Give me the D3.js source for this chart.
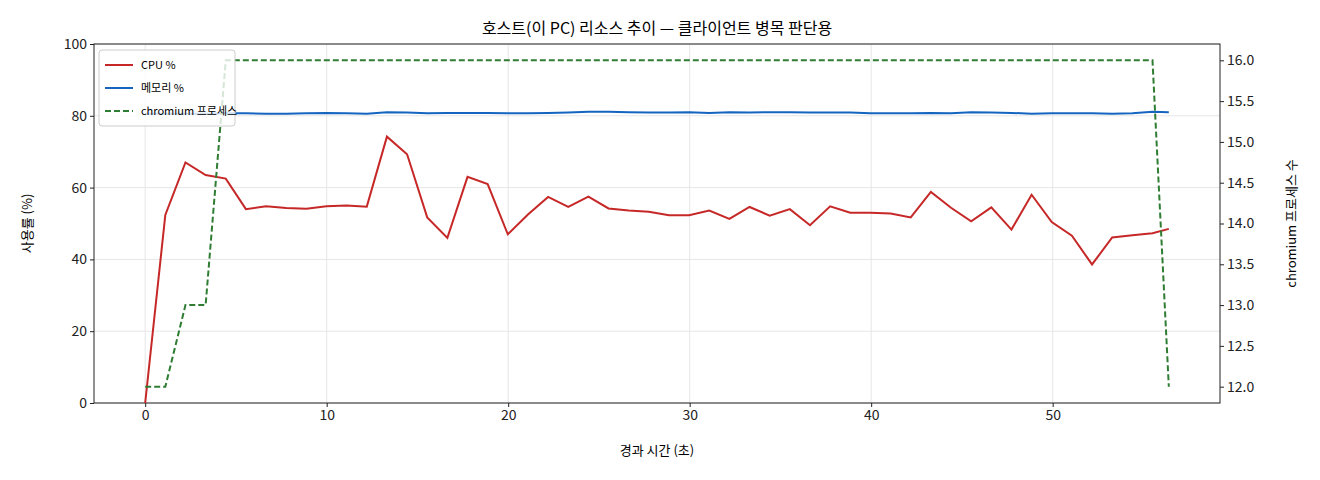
<!DOCTYPE html><html><head><meta charset="utf-8">
<script src="https://cdn.jsdelivr.net/npm/d3@7"></script>
<style>body{margin:0;background:#fff}text{font-family:"Noto Sans CJK KR","DejaVu Sans",sans-serif}</style></head>
<body><svg id="c" width="1320" height="480"></svg>
<script>
const cpu=[0,52.4,67,63.5,62.5,54,54.8,54.3,54.1,54.8,55,54.7,74.2,69.3,51.7,46,63,61,47,52.5,57.4,54.6,57.5,54.2,53.6,53.3,52.3,52.3,53.6,51.3,54.6,52.2,54,49.5,54.8,53,53,52.8,51.7,58.8,54.4,50.6,54.5,48.3,58,50.4,46.6,38.6,46.1,46.7,47.3,48.5];
const mem=[80.6,80.6,80.6,80.6,80.7,80.7,80.6,80.6,80.7,80.8,80.7,80.6,81.0,80.9,80.7,80.8,80.8,80.8,80.7,80.7,80.8,80.9,81.1,81.1,81.0,80.9,80.9,81.0,80.8,81.0,80.9,81.0,81.0,80.9,80.9,80.9,80.7,80.7,80.7,80.8,80.7,81.0,80.9,80.8,80.6,80.7,80.7,80.7,80.6,80.7,81.1,81.0];
const chrom=[12,12,13,13,16,16,16,16,16,16,16,16,16,16,16,16,16,16,16,16,16,16,16,16,16,16,16,16,16,16,16,16,16,16,16,16,16,16,16,16,16,16,16,16,16,16,16,16,16,16,16,12];
const times=cpu.map((d,i)=>i<51?i*1.11:56.4);
const xTicks=[0,10,20,30,40,50],yTicks=[0,20,40,60,80,100],y2Ticks=[12,12.5,13,13.5,14,14.5,15,15.5,16];
const L=94,R=1220,T=44,B=403;
const svg=d3.select("#c");
const x=d3.scaleLinear().domain([-2.82,59.22]).range([L,R]);
const y=d3.scaleLinear().domain([0,100]).range([B,T]);
const y2=d3.scaleLinear().domain([11.8,16.2]).range([B,T]);
const g=svg.append("g");
g.selectAll(".gx").data(xTicks).join("line").attr("x1",d=>x(d)).attr("x2",d=>x(d)).attr("y1",T).attr("y2",B).attr("stroke","#e6e6e6");
g.selectAll(".gy").data(yTicks).join("line").attr("y1",d=>y(d)).attr("y2",d=>y(d)).attr("x1",L).attr("x2",R).attr("stroke","#e6e6e6");
const ax=svg.append("g").attr("transform",`translate(0,${B})`).call(d3.axisBottom(x).tickValues(xTicks).tickSize(4));
const ay=svg.append("g").attr("transform",`translate(${L},0)`).call(d3.axisLeft(y).tickValues(yTicks).tickSize(4));
const ay2=svg.append("g").attr("transform",`translate(${R},0)`).call(d3.axisRight(y2).tickValues(y2Ticks).tickFormat(d3.format(".1f")).tickSize(4));
[ax,ay,ay2].forEach(a=>{a.select(".domain").remove();a.selectAll("text").attr("font-size",14).attr("fill","#222");a.selectAll("line").attr("stroke","#222");});
svg.append("rect").attr("x",L).attr("y",T).attr("width",R-L).attr("height",B-T).attr("fill","none").attr("stroke","#222");
const ln=(ys,sc)=>d3.line().x((d,i)=>x(times[i])).y(d=>sc(d))(ys);
svg.append("path").attr("d",ln(cpu,y)).attr("fill","none").attr("stroke","#c62828").attr("stroke-width",2);
svg.append("path").attr("d",ln(mem,y)).attr("fill","none").attr("stroke","#1565c0").attr("stroke-width",2);
svg.append("path").attr("d",ln(chrom,y2)).attr("fill","none").attr("stroke","#2e7d32").attr("stroke-width",2).attr("stroke-dasharray","6,3");
svg.append("text").attr("x",(L+R)/2).attr("y",34).attr("text-anchor","middle").attr("font-size",16).text("호스트(이 PC) 리소스 추이 — 클라이언트 병목 판단용");
svg.append("text").attr("x",(L+R)/2).attr("y",455).attr("text-anchor","middle").attr("font-size",13).text("경과 시간 (초)");
svg.append("text").attr("transform",`translate(32,${(T+B)/2}) rotate(-90)`).attr("text-anchor","middle").attr("font-size",13).text("사용률 (%)");
svg.append("text").attr("transform",`translate(1296,${(T+B)/2}) rotate(-90)`).attr("text-anchor","middle").attr("font-size",13).text("chromium 프로세스 수");
const lg=svg.append("g").attr("transform","translate(99,50)");
lg.append("rect").attr("width",136).attr("height",76).attr("rx",3).attr("fill","#fff").attr("fill-opacity",0.8).attr("stroke","#ccc");
[["CPU %","#c62828",null],["메모리 %","#1565c0",null],["chromium 프로세스","#2e7d32","6,3"]].forEach((d,i)=>{
 const yy=15+i*23;
 lg.append("line").attr("x1",6).attr("x2",34).attr("y1",yy).attr("y2",yy).attr("stroke",d[1]).attr("stroke-width",2).attr("stroke-dasharray",d[2]);
 lg.append("text").attr("x",42).attr("y",yy+4).attr("font-size",11).text(d[0]);
});
</script></body></html>
